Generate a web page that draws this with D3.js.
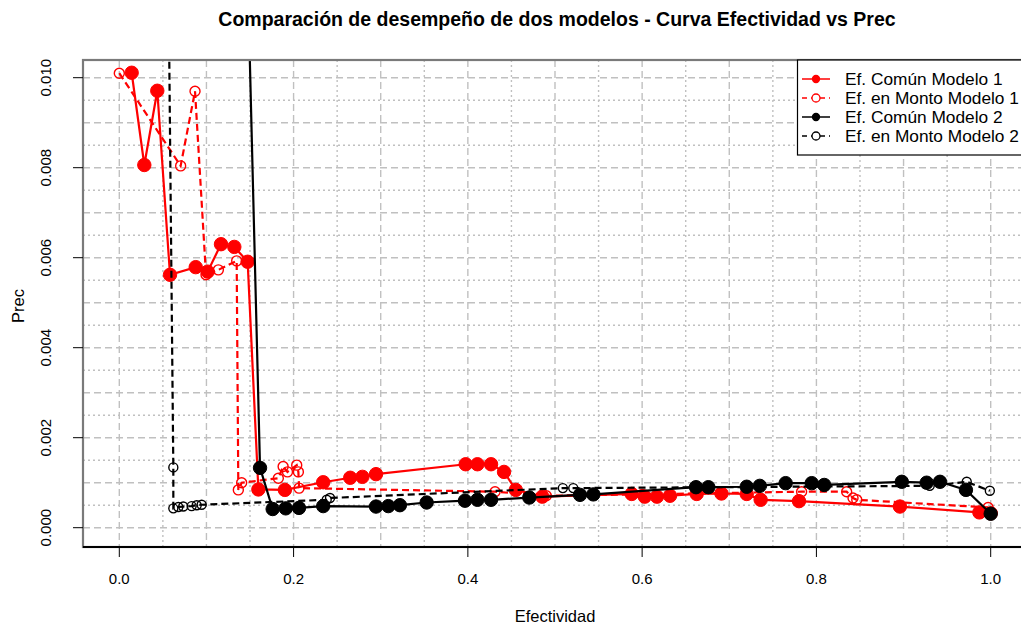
<!DOCTYPE html>
<html><head><meta charset="utf-8">
<script src="https://cdn.jsdelivr.net/npm/d3@7"></script>
<style>body{margin:0;background:#fff}svg{display:block;font-family:"Liberation Sans",Arial,sans-serif}</style>
</head><body><svg id="c" width="1021" height="625"></svg>
<script>
// ---- data ----
const xTicks = [0, 0.2, 0.4, 0.6, 0.8, 1.0];
const xTickLabels = ["0.0", "0.2", "0.4", "0.6", "0.8", "1.0"];
const yTicks = [0, 0.002, 0.004, 0.006, 0.008, 0.010];
const yTickLabels = ["0.000", "0.002", "0.004", "0.006", "0.008", "0.010"];

const comunM1_x = [0.0142, 0.0287, 0.0436, 0.0582, 0.0877, 0.1014, 0.1167, 0.132, 0.1473, 0.1596, 0.190, 0.234, 0.265, 0.279, 0.2946, 0.3975, 0.411, 0.4266, 0.4415, 0.455, 0.4854, 0.588, 0.603, 0.617, 0.632, 0.6626, 0.691, 0.720, 0.736, 0.780, 0.8958, 0.987, 1.0];
const comunM1_y = [0.01011, 0.00806, 0.00971, 0.00562, 0.00579, 0.00569, 0.00630, 0.00624, 0.00591, 0.00085, 0.00084, 0.00101, 0.00111, 0.00113, 0.00119, 0.00141, 0.00141, 0.00141, 0.00124, 0.00084, 0.00069, 0.00075, 0.00069, 0.00069, 0.00071, 0.00075, 0.00076, 0.00075, 0.00062, 0.00059, 0.00047, 0.00034, 0.00032];

const montoM1_x = [0.0, 0.0704, 0.0869, 0.0995, 0.1137, 0.1347, 0.1366, 0.1404, 0.1825, 0.188, 0.193, 0.2036, 0.2055, 0.2063, 0.4312, 0.49, 0.60, 0.72, 0.783, 0.8347, 0.842, 0.8463, 0.997];
const montoM1_y = [0.0101, 0.00804, 0.00970, 0.00562, 0.00573, 0.00593, 0.00084, 0.00100, 0.00110, 0.00136, 0.00124, 0.00139, 0.00124, 0.00088, 0.00080, 0.00071, 0.00074, 0.00078, 0.00080, 0.00080, 0.00066, 0.00062, 0.00045];

const comunM2_x = [0.145, 0.1615, 0.176, 0.191, 0.2062, 0.234, 0.2946, 0.3087, 0.322, 0.3527, 0.3967, 0.411, 0.4266, 0.4705, 0.5287, 0.544, 0.6618, 0.676, 0.720, 0.735, 0.7647, 0.7946, 0.809, 0.898, 0.9265, 0.9418, 0.9716, 1.0];
const comunM2_y = [0.0141, 0.00133, 0.000415, 0.00043, 0.00044, 0.00048, 0.00047, 0.00048, 0.0005, 0.00056, 0.0006, 0.00062, 0.00062, 0.00067, 0.00073, 0.00074, 0.0009, 0.0009, 0.00091, 0.00093, 0.00099, 0.00099, 0.00095, 0.00102, 0.001, 0.00102, 0.00084, 0.00031];

const montoM2_x = [0.055, 0.062, 0.062, 0.0677, 0.0734, 0.083, 0.0888, 0.0945, 0.238, 0.2418, 0.509, 0.521, 0.93, 0.9725, 0.999];
const montoM2_y = [0.0150, 0.00134, 0.00043, 0.00046, 0.00047, 0.00048, 0.0005, 0.00051, 0.00062, 0.00066, 0.00088, 0.00088, 0.00093, 0.00102, 0.00082];

const seriesNames = ["Ef. Común Modelo 1", "Ef. en Monto Modelo 1", "Ef. Común Modelo 2", "Ef. en Monto Modelo 2"];

// ---- layout ----
const svg = d3.select("#c");
const L = 83, R = 1026, T = 60, B = 547;
const x = d3.scaleLinear().domain([0, 1]).range([119.3, 990.7]);
const y = d3.scaleLinear().domain([0, 0.010]).range([527.7, 77.7]);

svg.append("defs").append("clipPath").attr("id", "clip")
  .append("rect").attr("x", L).attr("y", T).attr("width", R - L).attr("height", B - T);

// grid
const g = svg.append("g");
const gx = d3.range(0, 21).map(i => i * 0.05);
const gy = d3.range(0, 21).map(i => i * 0.0005);
gx.forEach((v, i) => {
  g.append("line").attr("x1", x(v)).attr("x2", x(v)).attr("y1", T).attr("y2", B)
    .attr("stroke", "#c0c0c0").attr("stroke-width", 1.4)
    .attr("stroke-dasharray", i % 2 === 0 ? "7,4" : "2,3");
});
gy.forEach((v, i) => {
  g.append("line").attr("x1", L).attr("x2", R).attr("y1", y(v)).attr("y2", y(v))
    .attr("stroke", "#c0c0c0").attr("stroke-width", 1.4)
    .attr("stroke-dasharray", i % 2 === 0 ? "7,4" : "2,3");
});

// series
const plot = svg.append("g").attr("clip-path", "url(#clip)");
function zip(xs, ys) { return xs.map((v, i) => [v, ys[i]]); }
const line = d3.line().x(d => x(d[0])).y(d => y(d[1]));
const series = [
  { data: zip(comunM1_x, comunM1_y), color: "#ff0000", dash: null, filled: true, r: 6.7 },
  { data: zip(montoM1_x, montoM1_y), color: "#ff0000", dash: "7,4", filled: false, r: 5 },
  { data: zip(comunM2_x, comunM2_y), color: "#000000", dash: null, filled: true, r: 6.7 },
  { data: zip(montoM2_x, montoM2_y), color: "#000000", dash: "7,4", filled: false, r: 4.5 }
];
series.forEach(s => {
  plot.append("path").attr("d", line(s.data)).attr("fill", "none")
    .attr("stroke", s.color).attr("stroke-width", 2.2)
    .attr("stroke-dasharray", s.dash);
  plot.selectAll(null).data(s.data).enter().append("circle")
    .attr("cx", d => x(d[0])).attr("cy", d => y(d[1])).attr("r", s.r)
    .attr("fill", s.filled ? s.color : "none")
    .attr("stroke", s.color).attr("stroke-width", s.filled ? 1 : 1.4);
});

// box
svg.append("rect").attr("x", L).attr("y", T).attr("width", R - L).attr("height", B - T)
  .attr("fill", "none").attr("stroke", "#7a7a7a").attr("stroke-width", 2.2);
svg.append("line").attr("x1", L).attr("x2", R).attr("y1", B).attr("y2", B)
  .attr("stroke", "#000").attr("stroke-width", 2);

// axes ticks
xTicks.forEach((v, i) => {
  svg.append("line").attr("x1", x(v)).attr("x2", x(v)).attr("y1", B).attr("y2", B + 10)
    .attr("stroke", "#000").attr("stroke-width", 1);
  svg.append("text").attr("x", x(v)).attr("y", 584).attr("text-anchor", "middle")
    .attr("font-size", 15).attr("fill", "#000").text(xTickLabels[i]);
});
yTicks.forEach((v, i) => {
  svg.append("line").attr("x1", L - 10).attr("x2", L).attr("y1", y(v)).attr("y2", y(v))
    .attr("stroke", "#000").attr("stroke-width", 1);
  svg.append("text").attr("transform", `translate(51,${y(v)}) rotate(-90)`)
    .attr("text-anchor", "middle").attr("font-size", 15).attr("fill", "#000").text(yTickLabels[i]);
});

// titles
svg.append("text").attr("x", 557).attr("y", 26).attr("text-anchor", "middle")
  .attr("font-size", 19.5).attr("font-weight", "bold").text("Comparación de desempeño de dos modelos - Curva Efectividad vs Prec");
svg.append("text").attr("x", 555).attr("y", 622).attr("text-anchor", "middle")
  .attr("font-size", 16.5).text("Efectividad");
svg.append("text").attr("transform", "translate(24,306) rotate(-90)").attr("text-anchor", "middle")
  .attr("font-size", 16.5).text("Prec");

// legend
const lg = svg.append("g");
lg.append("rect").attr("x", 797.5).attr("y", 60).attr("width", 240).attr("height", 95)
  .attr("fill", "#fff").attr("stroke", "#000").attr("stroke-width", 1.2);
series.forEach((s, i) => {
  const yy = 79 + i * 19;
  lg.append("line").attr("x1", 802).attr("x2", 830).attr("y1", yy).attr("y2", yy)
    .attr("stroke", s.color).attr("stroke-width", 1.5).attr("stroke-dasharray", s.dash ? "5,4" : null);
  lg.append("circle").attr("cx", 816).attr("cy", yy).attr("r", s.filled ? 3.5 : 4)
    .attr("fill", s.filled ? s.color : "#fff").attr("stroke", s.color).attr("stroke-width", 1.3);
  lg.append("text").attr("x", 845).attr("y", yy + 6).attr("font-size", 17.3).text(seriesNames[i]);
});
</script>
</body></html>
